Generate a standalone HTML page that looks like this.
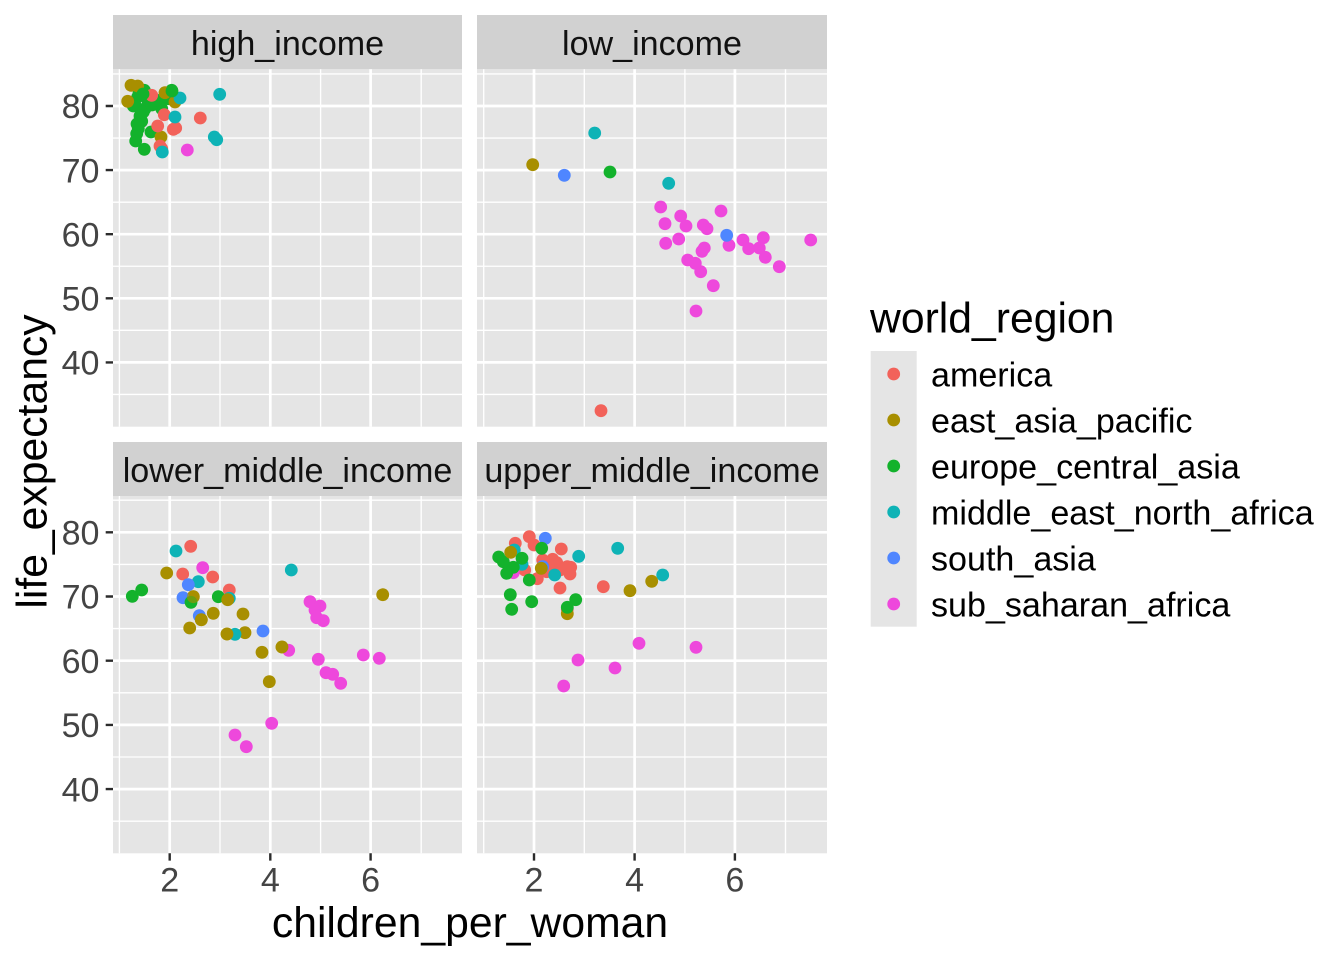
<!DOCTYPE html>
<html><head><meta charset="utf-8"><style>
html,body{margin:0;padding:0;background:#fff;}
svg{display:block;font-family:"Liberation Sans",Arial,sans-serif;}
</style></head><body>
<svg width="1344" height="960" viewBox="0 0 1344 960" xmlns="http://www.w3.org/2000/svg">
<rect x="0" y="0" width="1344" height="960" fill="#fff"/>

<!-- strips -->
<rect x="113" y="15" width="349" height="54.3" fill="#D1D1D1"/>
<rect x="477" y="15" width="350" height="54.3" fill="#D1D1D1"/>
<rect x="113" y="442" width="349" height="54" fill="#D1D1D1"/>
<rect x="477" y="442" width="350" height="54" fill="#D1D1D1"/>
<g font-size="34.1" fill="#111" text-anchor="middle">
<text x="287.5" y="55">high_income</text>
<text x="652" y="55">low_income</text>
<text x="287.5" y="482">lower_middle_income</text>
<text x="652" y="482">upper_middle_income</text>
</g>

<!-- panels -->
<rect x="113" y="69.3" width="349" height="357.4" fill="#E5E5E5"/>
<rect x="477" y="69.3" width="350" height="357.4" fill="#E5E5E5"/>
<rect x="113" y="496" width="349" height="357.3" fill="#E5E5E5"/>
<rect x="477" y="496" width="350" height="357.3" fill="#E5E5E5"/>

<!-- minor grid -->
<g stroke="#fff" stroke-width="1.35">
<path d="M113 73.95H462M113 138.05H462M113 202.15H462M113 266.25H462M113 330.35H462M113 394.45H462"/>
<path d="M477 73.95H827M477 138.05H827M477 202.15H827M477 266.25H827M477 330.35H827M477 394.45H827"/>
<path d="M113 500.2H462M113 564.4H462M113 628.6H462M113 692.8H462M113 757H462M113 821.2H462"/>
<path d="M477 500.2H827M477 564.4H827M477 628.6H827M477 692.8H827M477 757H827M477 821.2H827"/>
<path d="M119.4 69.3V426.7M220 69.3V426.7M320.6 69.3V426.7M421.2 69.3V426.7"/>
<path d="M483.7 69.3V426.7M584.3 69.3V426.7M684.9 69.3V426.7M785.5 69.3V426.7"/>
<path d="M119.4 496V853.3M220 496V853.3M320.6 496V853.3M421.2 496V853.3"/>
<path d="M483.7 496V853.3M584.3 496V853.3M684.9 496V853.3M785.5 496V853.3"/>
</g>
<!-- major grid -->
<g stroke="#fff" stroke-width="2.7">
<path d="M113 106H462M113 170.1H462M113 234.2H462M113 298.3H462M113 362.4H462"/>
<path d="M477 106H827M477 170.1H827M477 234.2H827M477 298.3H827M477 362.4H827"/>
<path d="M113 532.3H462M113 596.5H462M113 660.7H462M113 724.9H462M113 789.1H462"/>
<path d="M477 532.3H827M477 596.5H827M477 660.7H827M477 724.9H827M477 789.1H827"/>
<path d="M169.7 69.3V426.7M270.3 69.3V426.7M370.6 69.3V426.7"/>
<path d="M534 69.3V426.7M634.6 69.3V426.7M734.9 69.3V426.7"/>
<path d="M169.7 496V853.3M270.3 496V853.3M370.6 496V853.3"/>
<path d="M534 496V853.3M634.6 496V853.3M734.9 496V853.3"/>
</g>

<!-- ticks -->
<g stroke="#2B2B2B" stroke-width="2.4">
<path d="M105.7 106H113M105.7 170.1H113M105.7 234.2H113M105.7 298.3H113M105.7 362.4H113"/>
<path d="M105.7 532.3H113M105.7 596.5H113M105.7 660.7H113M105.7 724.9H113M105.7 789.1H113"/>
<path d="M169.7 853.3V860.6M270.3 853.3V860.6M370.6 853.3V860.6M534 853.3V860.6M634.6 853.3V860.6M734.9 853.3V860.6"/>
</g>
<g font-size="34.1" fill="#444" text-anchor="end">
<text x="99.5" y="118.2">80</text>
<text x="99.5" y="182.3">70</text>
<text x="99.5" y="246.4">60</text>
<text x="99.5" y="310.5">50</text>
<text x="99.5" y="374.6">40</text>
<text x="99.5" y="544.5">80</text>
<text x="99.5" y="608.7">70</text>
<text x="99.5" y="672.9">60</text>
<text x="99.5" y="737.1">50</text>
<text x="99.5" y="801.3">40</text>
</g>
<g font-size="34.1" fill="#444" text-anchor="middle">
<text x="169.7" y="891.7">2</text>
<text x="270.3" y="891.7">4</text>
<text x="370.6" y="891.7">6</text>
<text x="534" y="891.7">2</text>
<text x="634.6" y="891.7">4</text>
<text x="734.9" y="891.7">6</text>
</g>

<!-- axis titles -->
<text x="470" y="937" font-size="42.7" fill="#000" text-anchor="middle">children_per_woman</text>
<text transform="translate(46.7,461.5) rotate(-90)" font-size="42.7" fill="#000" text-anchor="middle">life_expectancy</text>

<!-- ===== points ===== -->
<!-- high_income -->
<g fill="#13B22C">
<circle cx="144.3" cy="90.3" r="6.4"/><circle cx="137.7" cy="97" r="6.4"/><circle cx="135" cy="105.3" r="6.4"/>
<circle cx="148.3" cy="102" r="6.4"/><circle cx="145" cy="108.7" r="6.4"/><circle cx="171.7" cy="90.3" r="6.4"/>
<circle cx="168.3" cy="98.7" r="6.4"/><circle cx="160" cy="102" r="6.4"/><circle cx="161.7" cy="108.7" r="6.4"/>
<circle cx="141.7" cy="121.3" r="6.4"/><circle cx="138.3" cy="128.7" r="6.4"/><circle cx="136.7" cy="133.7" r="6.4"/>
<circle cx="151" cy="132" r="6.4"/><circle cx="135.7" cy="141" r="6.4"/><circle cx="144.3" cy="149.3" r="6.4"/>
<circle cx="133.3" cy="106" r="6.4"/><circle cx="143.3" cy="112" r="6.4"/><circle cx="140" cy="116" r="6.4"/>
<circle cx="139" cy="93" r="6.4"/><circle cx="152" cy="105" r="6.4"/><circle cx="156" cy="100" r="6.4"/>
<circle cx="165" cy="96" r="6.4"/><circle cx="137" cy="124" r="6.4"/>
</g>
<g fill="#A88F00">
<circle cx="131" cy="85.3" r="6.4"/><circle cx="137.7" cy="86" r="6.4"/><circle cx="127.7" cy="101.3" r="6.4"/>
<circle cx="165" cy="92.7" r="6.4"/><circle cx="175" cy="102" r="6.4"/><circle cx="161" cy="137" r="6.4"/>
</g>
<g fill="#F2625A">
<circle cx="151.7" cy="95.3" r="6.4"/><circle cx="164.3" cy="114.7" r="6.4"/><circle cx="157.7" cy="126" r="6.4"/>
<circle cx="173.3" cy="129.3" r="6.4"/><circle cx="175.7" cy="128" r="6.4"/><circle cx="200.3" cy="118" r="6.4"/>
<circle cx="160" cy="146" r="6.4"/><circle cx="161.7" cy="148.7" r="6.4"/>
</g>
<g fill="#0EB3B6">
<circle cx="180" cy="98" r="6.4"/><circle cx="175" cy="117" r="6.4"/><circle cx="162.3" cy="152" r="6.4"/>
<circle cx="214.3" cy="137" r="6.4"/><circle cx="216.7" cy="139.7" r="6.4"/><circle cx="219.7" cy="94.3" r="6.4"/>
</g>
<g fill="#13B22C">
<circle cx="172" cy="91" r="6.4"/><circle cx="143" cy="94" r="6.4"/>
</g>
<circle cx="187.3" cy="150" r="6.4" fill="#EE48DC"/>

<!-- low_income -->
<g fill="#EE48DC">
<circle cx="660.7" cy="207" r="6.4"/><circle cx="680.7" cy="216" r="6.4"/><circle cx="721" cy="211" r="6.4"/>
<circle cx="665" cy="223.7" r="6.4"/><circle cx="686" cy="226" r="6.4"/><circle cx="703.3" cy="225" r="6.4"/>
<circle cx="707" cy="228.7" r="6.4"/><circle cx="678.7" cy="239" r="6.4"/><circle cx="665.7" cy="243.3" r="6.4"/>
<circle cx="743" cy="240" r="6.4"/><circle cx="763.3" cy="237.7" r="6.4"/><circle cx="810.7" cy="240" r="6.4"/>
<circle cx="729" cy="245.3" r="6.4"/><circle cx="704.3" cy="248" r="6.4"/><circle cx="702" cy="251.3" r="6.4"/>
<circle cx="748.7" cy="248.7" r="6.4"/><circle cx="759.3" cy="248" r="6.4"/><circle cx="765.3" cy="257.3" r="6.4"/>
<circle cx="687.7" cy="260" r="6.4"/><circle cx="695.3" cy="263.3" r="6.4"/><circle cx="700.7" cy="271.7" r="6.4"/>
<circle cx="779.3" cy="266.7" r="6.4"/><circle cx="713.3" cy="285.7" r="6.4"/><circle cx="696" cy="311" r="6.4"/>
</g>
<circle cx="594.7" cy="133" r="6.4" fill="#0EB3B6"/>
<circle cx="532.7" cy="164.7" r="6.4" fill="#A88F00"/>
<circle cx="564.3" cy="175.3" r="6.4" fill="#4F86FF"/>
<circle cx="610" cy="172" r="6.4" fill="#13B22C"/>
<circle cx="668.7" cy="183.3" r="6.4" fill="#0EB3B6"/>
<circle cx="726.7" cy="235.3" r="6.4" fill="#4F86FF"/>
<circle cx="601" cy="410.7" r="6.4" fill="#F2625A"/>

<!-- lower_middle_income -->
<g fill="#A88F00">
<circle cx="166.7" cy="573" r="6.4"/><circle cx="193.3" cy="596.7" r="6.4"/><circle cx="201.3" cy="619.7" r="6.4"/>
<circle cx="213.3" cy="613.3" r="6.4"/><circle cx="243" cy="614" r="6.4"/><circle cx="189.7" cy="628" r="6.4"/>
<circle cx="227" cy="634" r="6.4"/><circle cx="245" cy="632.7" r="6.4"/><circle cx="262" cy="652.3" r="6.4"/>
<circle cx="282" cy="647" r="6.4"/><circle cx="269.3" cy="681.7" r="6.4"/><circle cx="382.7" cy="594.7" r="6.4"/>
</g>
<g fill="#F2625A">
<circle cx="190.7" cy="546.3" r="6.4"/><circle cx="182.7" cy="574" r="6.4"/><circle cx="212.7" cy="577" r="6.4"/>
<circle cx="229.3" cy="590" r="6.4"/>
</g>
<g fill="#0EB3B6">
<circle cx="176" cy="551" r="6.4"/><circle cx="198.3" cy="581.7" r="6.4"/><circle cx="229.3" cy="598.3" r="6.4"/>
<circle cx="235" cy="634.3" r="6.4"/><circle cx="291.3" cy="570" r="6.4"/>
</g>
<g fill="#4F86FF">
<circle cx="188.3" cy="584.7" r="6.4"/><circle cx="183" cy="597.7" r="6.4"/><circle cx="199.3" cy="615.7" r="6.4"/>
<circle cx="263" cy="631" r="6.4"/>
</g>
<g fill="#13B22C">
<circle cx="132.3" cy="596.3" r="6.4"/><circle cx="141.7" cy="590" r="6.4"/><circle cx="191" cy="602.3" r="6.4"/>
<circle cx="218.3" cy="596.7" r="6.4"/>
</g>
<circle cx="193.3" cy="596.7" r="6.4" fill="#A88F00" opacity="0.6"/>
<circle cx="227.7" cy="599.7" r="6.4" fill="#A88F00"/>
<circle cx="201.3" cy="619.7" r="6.4" fill="#A88F00"/>
<circle cx="227" cy="634" r="6.4" fill="#A88F00"/>
<g fill="#EE48DC">
<circle cx="202.7" cy="567.7" r="6.4"/><circle cx="288.7" cy="650.3" r="6.4"/>
<circle cx="310" cy="601.7" r="6.4"/><circle cx="320" cy="606" r="6.4"/><circle cx="315" cy="610" r="6.4"/>
<circle cx="316.7" cy="617.7" r="6.4"/><circle cx="323.3" cy="620.7" r="6.4"/><circle cx="318.3" cy="659.3" r="6.4"/>
<circle cx="326" cy="672.7" r="6.4"/><circle cx="332.7" cy="674.3" r="6.4"/><circle cx="340.7" cy="683.3" r="6.4"/>
<circle cx="363.3" cy="655" r="6.4"/><circle cx="379.3" cy="658.3" r="6.4"/><circle cx="271.7" cy="723.3" r="6.4"/>
<circle cx="235" cy="735" r="6.4"/><circle cx="246.3" cy="746.7" r="6.4"/>
</g>
<circle cx="282" cy="647" r="6.4" fill="#A88F00"/>

<!-- upper_middle_income -->
<g fill="#F2625A">
<circle cx="529.3" cy="536.7" r="6.4"/><circle cx="534" cy="545" r="6.4"/><circle cx="515.3" cy="543.3" r="6.4"/>
<circle cx="561.3" cy="549" r="6.4"/><circle cx="542.7" cy="560" r="6.4"/><circle cx="552.7" cy="559.3" r="6.4"/>
<circle cx="556.7" cy="562.7" r="6.4"/><circle cx="567.3" cy="566.7" r="6.4"/><circle cx="570.7" cy="567.3" r="6.4"/>
<circle cx="560" cy="570" r="6.4"/><circle cx="570" cy="574" r="6.4"/><circle cx="546.7" cy="571.7" r="6.4"/>
<circle cx="524.7" cy="570" r="6.4"/><circle cx="537.3" cy="578.7" r="6.4"/><circle cx="560" cy="588" r="6.4"/>
<circle cx="603.3" cy="586.7" r="6.4"/><circle cx="567.3" cy="609" r="6.4"/><circle cx="550" cy="566" r="6.4"/>
</g>
<circle cx="545.3" cy="538.3" r="6.4" fill="#4F86FF"/>
<circle cx="542.7" cy="566.7" r="6.4" fill="#4F86FF"/>
<g fill="#0EB3B6">
<circle cx="514.3" cy="550" r="6.4"/><circle cx="522" cy="564.3" r="6.4"/><circle cx="578.7" cy="556.3" r="6.4"/>
<circle cx="554.7" cy="575" r="6.4"/><circle cx="662.7" cy="575" r="6.4"/><circle cx="617.7" cy="548.3" r="6.4"/>
</g>
<circle cx="513.3" cy="572.7" r="6.4" fill="#EE48DC"/>
<g fill="#13B22C">
<circle cx="541.7" cy="548.3" r="6.4"/><circle cx="498.7" cy="557" r="6.4"/><circle cx="522" cy="558.3" r="6.4"/>
<circle cx="513.3" cy="567.3" r="6.4"/><circle cx="506.7" cy="573.3" r="6.4"/><circle cx="529.3" cy="580" r="6.4"/>
<circle cx="503.3" cy="561.7" r="6.4"/><circle cx="510.3" cy="594.7" r="6.4"/><circle cx="531.7" cy="601.7" r="6.4"/>
<circle cx="511.7" cy="609.3" r="6.4"/><circle cx="575.7" cy="599.7" r="6.4"/>
</g>
<circle cx="567.3" cy="613.7" r="6.4" fill="#A88F00"/>
<circle cx="567.3" cy="607.3" r="6.4" fill="#13B22C"/>
<g fill="#A88F00">
<circle cx="510.7" cy="552.3" r="6.4"/><circle cx="541.3" cy="568.3" r="6.4"/><circle cx="630" cy="590.7" r="6.4"/>
<circle cx="651.7" cy="581.3" r="6.4"/>
</g>
<g fill="#EE48DC">
<circle cx="639" cy="643.3" r="6.4"/><circle cx="696" cy="647.3" r="6.4"/><circle cx="578" cy="660" r="6.4"/>
<circle cx="615" cy="668" r="6.4"/><circle cx="563.7" cy="686" r="6.4"/>
</g>

<!-- legend -->
<text x="870" y="332.7" font-size="42.7" fill="#000">world_region</text>
<rect x="870.7" y="351" width="46" height="275.7" fill="#E5E5E5"/>
<circle cx="893.7" cy="374" r="6.4" fill="#F2625A"/>
<circle cx="893.7" cy="420" r="6.4" fill="#A88F00"/>
<circle cx="893.7" cy="466" r="6.4" fill="#13B22C"/>
<circle cx="893.7" cy="512" r="6.4" fill="#0EB3B6"/>
<circle cx="893.7" cy="558" r="6.4" fill="#4F86FF"/>
<circle cx="893.7" cy="604" r="6.4" fill="#EE48DC"/>
<g font-size="34.1" fill="#000">
<text x="931" y="386.7">america</text>
<text x="931" y="432.7">east_asia_pacific</text>
<text x="931" y="478.7">europe_central_asia</text>
<text x="931" y="524.7">middle_east_north_africa</text>
<text x="931" y="570.7">south_asia</text>
<text x="931" y="616.7">sub_saharan_africa</text>
</g>
</svg>
</body></html>
